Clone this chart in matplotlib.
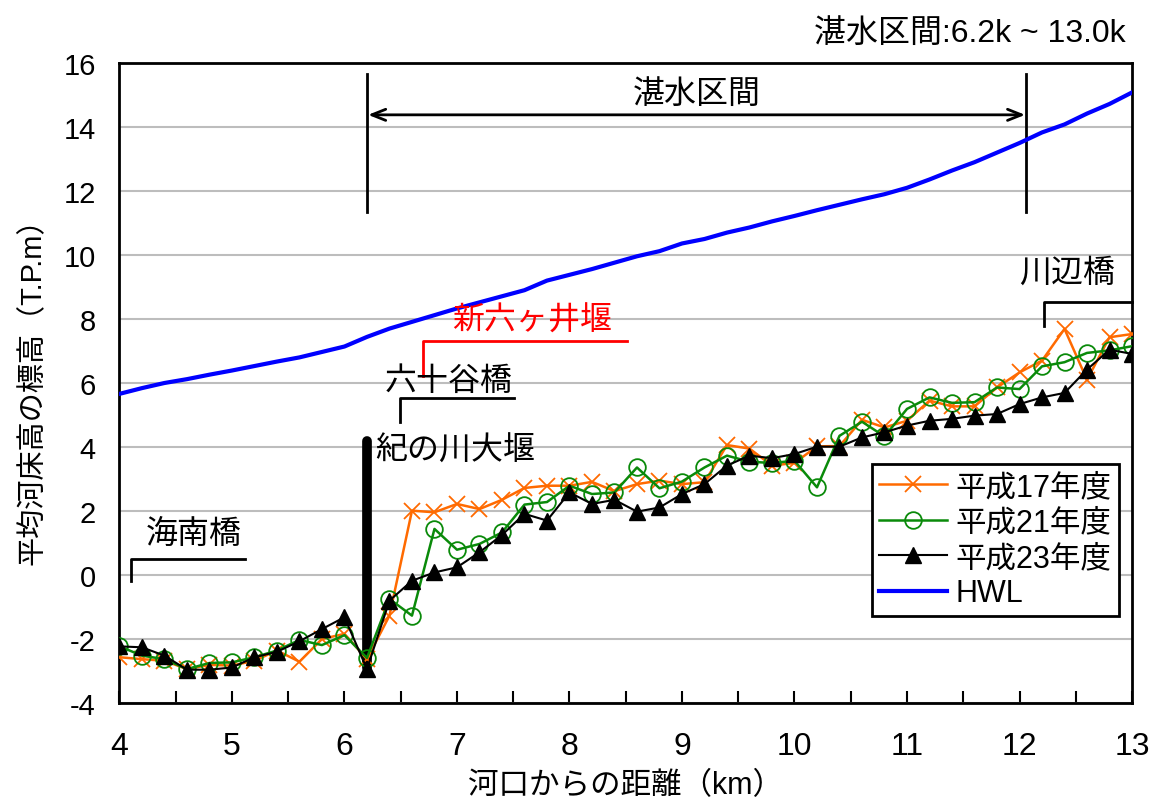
import numpy as np
import matplotlib
matplotlib.use("Agg")
import matplotlib.pyplot as plt

plt.rcParams['font.family'] = ['Liberation Sans', 'Noto Sans CJK JP']
plt.rcParams['axes.unicode_minus'] = False

# distance from river mouth (km)
km = [4.0, 4.2, 4.4, 4.6, 4.8, 5.0, 5.2, 5.4, 5.6, 5.8,
      6.0, 6.2, 6.4, 6.6, 6.8, 7.0, 7.2, 7.4, 7.6, 7.8,
      8.0, 8.2, 8.4, 8.6, 8.8, 9.0, 9.2, 9.4, 9.6, 9.8,
      10.0, 10.2, 10.4, 10.6, 10.8, 11.0, 11.2, 11.4, 11.6, 11.8,
      12.0, 12.2, 12.4, 12.6, 12.8, 13.0]

h17 = [-2.57, -2.63, -2.68, -2.94, -2.81, -2.83, -2.68, -2.36, -2.71, -2.00,
       -1.84, -2.63, -1.27, 2.01, 1.96, 2.22, 2.06, 2.35, 2.72, 2.79,
       2.79, 2.91, 2.62, 2.84, 2.95, 2.84, 2.90, 4.06, 3.95, 3.42,
       3.50, 4.02, 4.03, 4.85, 4.61, 4.82, 5.45, 5.27, 5.27, 5.86,
       6.33, 6.70, 7.69, 6.10, 7.43, 7.53]

h21 = [-2.23, -2.52, -2.63, -2.94, -2.75, -2.73, -2.57, -2.36, -2.03, -2.19,
       -1.88, -2.59, -0.75, -1.27, 1.44, 0.79, 0.97, 1.33, 2.20, 2.28,
       2.79, 2.53, 2.58, 3.36, 2.71, 2.92, 3.36, 3.73, 3.54, 3.50,
       3.57, 2.74, 4.35, 4.79, 4.33, 5.19, 5.55, 5.38, 5.40, 5.86,
       5.81, 6.52, 6.65, 6.94, 7.02, 7.15]

h23 = [-2.23, -2.26, -2.52, -2.96, -2.96, -2.89, -2.57, -2.40, -2.07, -1.69,
       -1.32, -2.94, -0.80, -0.18, 0.08, 0.24, 0.71, 1.25, 1.91, 1.70,
       2.58, 2.22, 2.35, 1.98, 2.11, 2.53, 2.84, 3.42, 3.73, 3.65,
       3.78, 4.01, 4.01, 4.30, 4.46, 4.67, 4.82, 4.88, 4.98, 5.03,
       5.34, 5.55, 5.69, 6.42, 7.04, 6.91]

hwl = [5.66, 5.84, 6.00, 6.12, 6.26, 6.39, 6.53, 6.67, 6.80, 6.97,
       7.14, 7.44, 7.70, 7.91, 8.12, 8.33, 8.52, 8.71, 8.90, 9.20,
       9.38, 9.56, 9.76, 9.96, 10.12, 10.36, 10.50, 10.70, 10.86, 11.05,
       11.22, 11.40, 11.57, 11.74, 11.90, 12.10, 12.36, 12.64, 12.90, 13.20,
       13.50, 13.83, 14.08, 14.42, 14.72, 15.08]

series_labels = ['平成17年度', '平成21年度', '平成23年度', 'HWL']

fig = plt.figure(figsize=(11.53, 8.03), dpi=100)
ax = fig.add_axes([0.1036, 0.1233, 0.8782, 0.797])

ax.plot(km, h17, color='#ff6a00', lw=1.8, marker='x', ms=11, mew=1.3, label=series_labels[0], zorder=4)
ax.plot(km, h21, color='#0a8a0a', lw=1.8, marker='o', ms=12, mfc='none', mew=1.3, label=series_labels[1], zorder=5)
ax.plot(km, h23, color='black', lw=1.5, marker='^', ms=12, label=series_labels[2], zorder=6)
ax.plot(km, hwl, color='#0000ff', lw=3, label=series_labels[3], zorder=3)

ax.set_xlim(4, 13)
ax.set_ylim(-4, 16)
ax.set_xticks(range(4, 14))
ax.set_xticks(np.arange(4, 13.01, 0.5), minor=True)
ax.set_yticks(range(-4, 17, 2))
ax.yaxis.grid(True, color='#bdbdbd', lw=1.5)
ax.set_axisbelow(True)
ax.tick_params(axis='x', which='both', direction='in', length=9, width=1.5,
               labelsize=23, pad=20)
ax.tick_params(axis='y', length=0, labelsize=21, pad=17)
for s in ax.spines.values():
    s.set_linewidth(2)

ax.set_xlabel('河口からの距離（km）', fontsize=22, labelpad=7)
ax.set_ylabel('平均河床高の標高（T.P.m）', fontsize=21, labelpad=12)

# 湛水区間
ax.plot([6.2, 6.2], [11.33, 15.66], color='black', lw=2)
ax.plot([12.06, 12.06], [11.33, 15.66], color='black', lw=2)
ax.annotate('', xy=(6.21, 14.38), xytext=(12.05, 14.38),
            arrowprops=dict(arrowstyle='<->,head_length=1.0,head_width=0.4', color='black', lw=2,
                            shrinkA=0, shrinkB=0))
ax.text(9.13, 15.03, '湛水区間', fontsize=23, ha='center', va='center')
fig.text(0.976, 0.958, '湛水区間:6.2k ~ 13.0k', fontsize=23, ha='right', va='center')

# 紀の川大堰
ax.plot([6.2, 6.2], [-2.9, 4.2], color='black', lw=7, solid_capstyle='round', zorder=2)
ax.text(6.27, 3.88, '紀の川大堰', fontsize=23, ha='left', va='center')

# 新六ヶ井堰
ax.plot([6.7, 6.7, 8.51], [6.23, 7.32, 7.32], color='red', lw=2)
ax.text(7.67, 7.95, '新六ヶ井堰', fontsize=23, ha='center', va='center', color='red')

# 六十谷橋
ax.plot([6.49, 6.49, 7.51], [4.79, 5.53, 5.53], color='black', lw=2)
ax.text(6.93, 6.07, '六十谷橋', fontsize=23, ha='center', va='center')

# 海南橋
ax.plot([4.1, 4.1, 5.12], [-0.18, 0.5, 0.5], color='black', lw=2)
ax.text(4.66, 1.28, '海南橋', fontsize=23, ha='center', va='center')

# 川辺橋
ax.plot([12.22, 12.22, 13.0], [7.79, 8.52, 8.52], color='black', lw=2, clip_on=False)
ax.text(12.42, 9.46, '川辺橋', fontsize=23, ha='center', va='center')

leg = ax.legend(loc='upper left', bbox_to_anchor=(0.743, 0.373), fontsize=22,
                frameon=True, fancybox=False, framealpha=1, edgecolor='black',
                borderpad=0.25, labelspacing=0.18, handlelength=2.2, handletextpad=0.3,
                borderaxespad=0)
leg.get_frame().set_linewidth(2)

fig.savefig('out.png', dpi=100)
